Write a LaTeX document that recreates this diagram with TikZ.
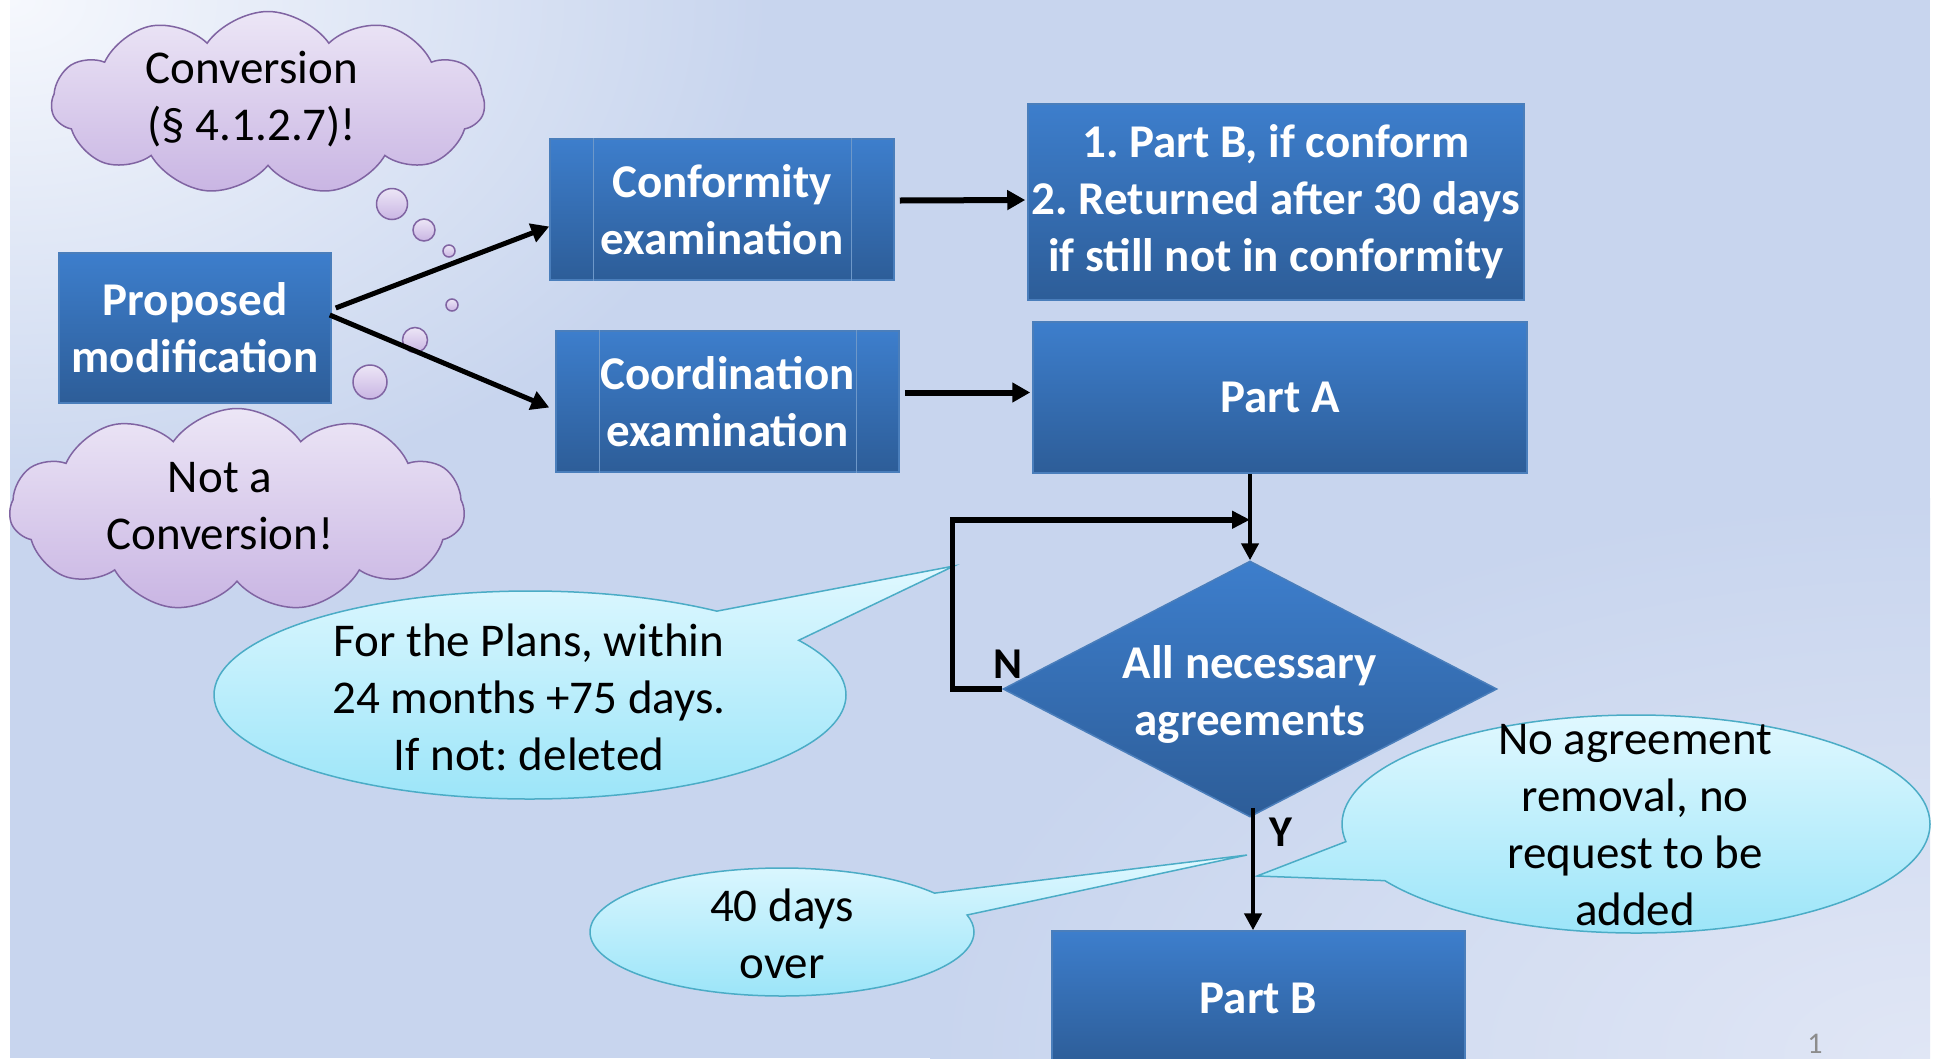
\documentclass[tikz,border=0pt]{standalone}
\usepackage{fontspec}
\setmainfont{Carlito}
\usetikzlibrary{shapes.geometric,shapes.symbols,shapes.callouts,arrows.meta,calc}
\definecolor{boxtop}{HTML}{3D7ECC}
\definecolor{boxbot}{HTML}{2D5D98}
\definecolor{boxline}{HTML}{4A7EBB}
\definecolor{cyantop}{HTML}{E0F8FF}
\definecolor{cyanbot}{HTML}{98E4F8}
\definecolor{cyanline}{HTML}{4BACC6}
\definecolor{lavtop}{HTML}{ECE6F6}
\definecolor{lavbot}{HTML}{C9B5E3}
\definecolor{lavline}{HTML}{8064A2}
\definecolor{bgA}{HTML}{F6F8FD}
\definecolor{bgB}{HTML}{C8D5EE}
\definecolor{bgC}{HTML}{E0E6F5}
\begin{document}
\frenchspacing
\begin{tikzpicture}[x=1pt,y=-1pt,
  bluebox/.style={draw=boxline, line width=1.5pt, top color=boxtop, bottom color=boxbot,
    text=white, font=\bfseries\fontsize{47}{57}\selectfont, align=center, inner sep=0pt},
  cloudbox/.style={cloud, cloud puffs=11, cloud puff arc=110, draw=lavline, line width=1.5pt,
    top color=lavtop, bottom color=lavbot, inner sep=0pt},
  bubble/.style={circle, draw=lavline, line width=1.5pt, top color=lavtop, bottom color=lavbot, inner sep=0pt},
  callbox/.style={ellipse callout, callout pointer arc=22, draw=cyanline, line width=1.5pt,
    top color=cyantop, bottom color=cyanbot, inner sep=0pt},
  txt/.style={font=\fontsize{47}{57}\selectfont, align=center, inner sep=0pt},
  lbl/.style={font=\bfseries\fontsize{44}{50}\selectfont, inner sep=0pt},
  arr/.style={line width=5pt, -{Triangle[length=18pt,width=19pt]}},
  varr/.style={line width=4.5pt, -{Triangle[length=17pt,width=17pt]}},
  loopline/.style={line width=5.5pt, -{Triangle[length=18pt,width=17pt]}}
]
\useasboundingbox (0,0) rectangle (1939,1058);
\clip (0,0) rectangle (1939,1058);
\fill[white] (0,0) rectangle (1939,1058);
\begin{scope}
\clip (10,0) rectangle (1930,1058);
\fill[bgB] (10,0) rectangle (1930,1058);
\shade[inner color=bgC, outer color=bgB] (1930,1058) ellipse (1000 and 560);
\shade[inner color=bgA, outer color=bgB] (10,0) ellipse (760 and 520);
\end{scope}

% clouds
\node[cloudbox, minimum width=433pt, minimum height=183pt] (cloudA) at (268,103) {};
\node[txt] (cloudAt) at (252,99) {Conversion\\(§ 4.1.2.7)!};
\node[bubble, minimum size=31pt] (ba1) at (392,204) {};
\node[bubble, minimum size=22pt] (ba2) at (424,230) {};
\node[bubble, minimum size=12pt] (ba3) at (449,251) {};

\node[cloudbox, minimum width=455pt, minimum height=203pt] (cloudB) at (237,510) {};
\node[txt] (cloudBt) at (220,506) {Not a\\Conversion!};
\node[bubble, minimum size=34pt] (bb1) at (370,382) {};
\node[bubble, minimum size=25pt] (bb2) at (415,340) {};
\node[bubble, minimum size=12pt] (bb3) at (452,305) {};

% boxes
\node[bluebox, minimum width=272pt, minimum height=150pt] (pm) at (195,328) {Proposed\\modification};
\node[bluebox, minimum width=344pt, minimum height=141pt] (conf) at (722,209.5) {Conformity\\examination};
\node[bluebox, minimum width=343pt, minimum height=141pt] (coord) at (727.5,401.5) {Coordination\\examination};
\foreach \b in {conf,coord}{
  \draw[boxline!80!white, line width=1.2pt] ([xshift=44pt]\b.north west) -- ([xshift=44pt]\b.south west);
  \draw[boxline!80!white, line width=1.2pt] ([xshift=-43pt]\b.north east) -- ([xshift=-43pt]\b.south east);
}
\node[bluebox, minimum width=496pt, minimum height=196pt] (res) at (1276,202) {1. Part B, if conform\\2. Returned after 30 days\\if still not in conformity};
\node[bluebox, minimum width=494pt, minimum height=151pt] (partA) at (1280,397.5) {Part A};
\node[bluebox, diamond, aspect=1.92, minimum width=494pt, minimum height=256pt] (dia) at (1250,689) {\raisebox{-5pt}[\height][\depth]{\parbox{300pt}{\centering All necessary\\agreements}}};
\node[bluebox, minimum width=413pt, minimum height=134pt] (partB) at (1258.5,998) {Part B};

% callouts
\node[callbox, callout absolute pointer={(954,566)}, minimum width=632pt, minimum height=208pt] (cplans) at (530,695) {};
\node[txt] (cplanst) at (529,697) {For the Plans, within\\24 months +75 days.\\If not: deleted};
\node[callbox, callout absolute pointer={(1257,876)}, minimum width=588pt, minimum height=218pt] (cno) at (1636,824) {};
\node[txt] (cnot) at (1635,825) {No agreement\\removal, no\\request to be\\added};
\node[callbox, callout absolute pointer={(1247,855)}, minimum width=384pt, minimum height=128pt] (c40) at (782,932) {};
\node[txt] (c40t) at (782,934) {40 days\\over};

% connectors
\draw[arr] ($(pm.east)+(4,-20)$) -- ($(conf.west)+(0,17)$);
\draw[arr] ($(pm.east)+(-2,-13)$) -- ($(coord.west)+(-6,6)$);
\draw[arr, line width=6pt] ($(conf.east)+(5,-9)$) -- ($(res.west)+(-2,-2)$);
\draw[arr, line width=6pt] ($(coord.east)+(5,-9)$) -- ($(partA.west)+(-2,-5)$);
\draw[varr] (dia.north |- partA.south) -- (dia.north);
\coordinate (join) at ($(dia.north |- partA.south)+(0,46)$);
\draw[loopline] (dia.west) -- ++(-50,0) |- (join);
\draw[varr] ($(dia.south)+(3,-10)$) -- ($(dia.south |- partB.north)+(3,0)$);
\node[lbl] (nlab) at (1008,664) {N};
\node[lbl] (ylab) at (1281,832) {Y};

\node[font=\fontsize{30}{34}\selectfont, text=black!45, inner sep=0pt] (pg) at (1815,1044) {1};
\end{tikzpicture}
\end{document}
